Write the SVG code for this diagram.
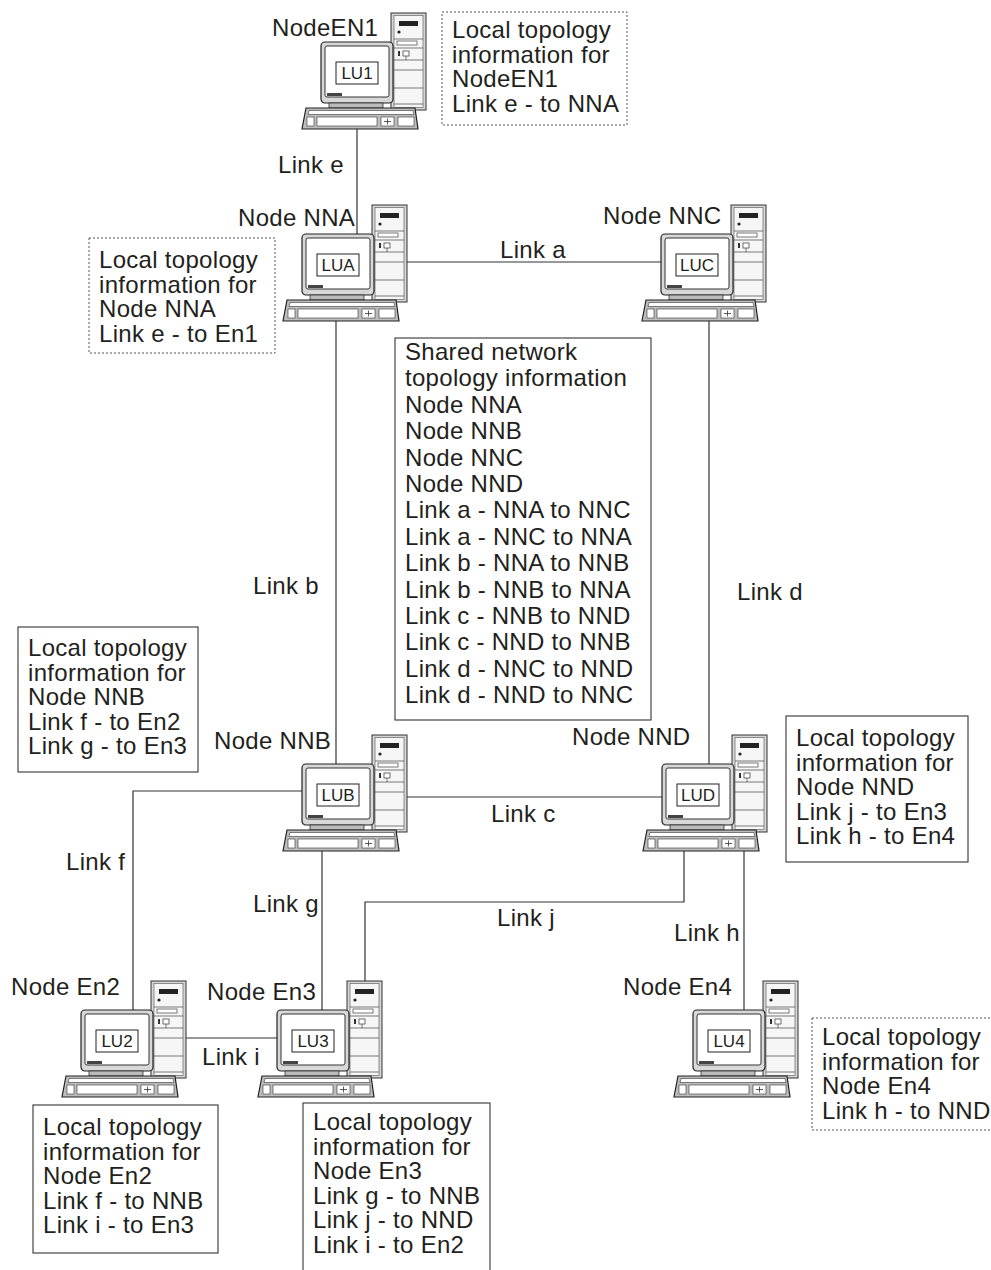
<svg xmlns="http://www.w3.org/2000/svg" xmlns:xlink="http://www.w3.org/1999/xlink" width="991" height="1270" viewBox="0 0 991 1270">
<style>
text{font-family:"Liberation Sans",Arial,sans-serif;fill:#231f20;}
.lbl{font-size:24px;letter-spacing:0.3px;}
.lu{font-size:17px;text-anchor:middle;}
.box{fill:#fff;stroke:#333;stroke-width:1.1;}
.dash{fill:#fff;stroke:#555;stroke-width:1;stroke-dasharray:2 2;}
.ln{stroke:#444;stroke-width:0.7;fill:none;}
</style>
<defs>
<g id="pc">
<rect x="70" y="0" width="35" height="97" fill="#d6d6d6" stroke="#333" stroke-width="1"/>
<rect x="73" y="2.5" width="29" height="92" fill="#f6f6f6" stroke="#666" stroke-width="0.7"/>
<rect x="78" y="8" width="19" height="5" fill="#222"/>
<circle cx="78" cy="19" r="1.6" fill="#222"/>
<line class="ln" x1="73" y1="26" x2="102" y2="26"/>
<rect x="76" y="28" width="20" height="4" fill="#fff" stroke="#444" stroke-width="0.7"/>
<line class="ln" x1="73" y1="35" x2="102" y2="35"/>
<rect x="77" y="38" width="2" height="5" fill="#333"/>
<rect x="82" y="38" width="6" height="5" fill="#fff" stroke="#333" stroke-width="0.7"/>
<line class="ln" x1="85" y1="43" x2="85" y2="47"/>
<line class="ln" x1="73" y1="47" x2="102" y2="47"/>
<line class="ln" x1="73" y1="57" x2="102" y2="57"/>
<line class="ln" x1="73" y1="75" x2="102" y2="75"/>
<line class="ln" x1="73" y1="91" x2="102" y2="91"/>
<rect x="0" y="29" width="72" height="61" rx="4" fill="#d8d8d8" stroke="#222" stroke-width="1.2"/>
<rect x="4" y="33" width="64" height="51" rx="2" fill="#fff" stroke="#333" stroke-width="1"/>
<rect x="6" y="80" width="15" height="3" fill="#444"/>
<rect x="8" y="90" width="54" height="5" fill="#bbb" stroke="#333" stroke-width="0.8"/>
<polygon points="-15,95 94,95 97,116 -19,116" fill="#bdbdbd" stroke="#222" stroke-width="1.2"/>
<polygon points="-12,97.5 92,97.5 93,101.5 -13,101.5" fill="#fff" stroke="#333" stroke-width="0.6"/>
<rect x="-4" y="104" width="60" height="9" fill="#fff" stroke="#333" stroke-width="0.6"/>
<rect x="-14" y="104" width="7" height="9" fill="#fff" stroke="#333" stroke-width="0.6"/>
<rect x="60" y="104" width="13" height="9" fill="#fff" stroke="#333" stroke-width="0.6"/>
<path d="M63 108.5h7M66.5 105.5v6" stroke="#333" stroke-width="0.8" fill="none"/>
<rect x="77" y="104" width="16" height="9" fill="#fff" stroke="#333" stroke-width="0.6"/>
</g>
</defs>
<rect width="991" height="1270" fill="#fff"/>

<g id="connectors" fill="none" stroke="#333" stroke-width="1.2">
<line x1="357" y1="129" x2="357" y2="234"/>
<line x1="407" y1="262" x2="661" y2="262"/>
<line x1="336" y1="321" x2="336" y2="764"/>
<line x1="709" y1="321" x2="709" y2="764"/>
<line x1="407" y1="797" x2="662" y2="797"/>
<polyline points="302,791 133,791 133,1010"/>
<line x1="322" y1="851" x2="322" y2="1010"/>
<polyline points="684,851 684,902 365,902 365,981"/>
<line x1="744" y1="851" x2="744" y2="1010"/>
<line x1="186" y1="1038" x2="277" y2="1038"/>
</g>

<g id="link-labels" class="lbl">
<text class="lbl" x="278" y="173">Link e</text>
<text class="lbl" x="500" y="258">Link a</text>
<text class="lbl" x="253" y="594">Link b</text>
<text class="lbl" x="737" y="600">Link d</text>
<text class="lbl" x="491" y="822">Link c</text>
<text class="lbl" x="66" y="870">Link f</text>
<text class="lbl" x="253" y="912">Link g</text>
<text class="lbl" x="497" y="926">Link j</text>
<text class="lbl" x="674" y="941">Link h</text>
<text class="lbl" x="202" y="1065">Link i</text>
</g>

<g id="node-EN1">
<use xlink:href="#pc" transform="translate(321,13)"/>
<rect x="336" y="62" width="42" height="22" fill="#fff" stroke="#222"/>
<text class="lu" x="357" y="79">LU1</text>
<text class="lbl" x="272" y="36">NodeEN1</text>
</g>
<g id="node-NNA">
<use xlink:href="#pc" transform="translate(302,205)"/>
<rect x="317" y="254" width="42" height="22" fill="#fff" stroke="#222"/>
<text class="lu" x="338" y="271">LUA</text>
<text class="lbl" x="238" y="226">Node NNA</text>
</g>
<g id="node-NNC">
<use xlink:href="#pc" transform="translate(661,205)"/>
<rect x="676" y="254" width="42" height="22" fill="#fff" stroke="#222"/>
<text class="lu" x="697" y="271">LUC</text>
<text class="lbl" x="603" y="224">Node NNC</text>
</g>
<g id="node-NNB">
<use xlink:href="#pc" transform="translate(302,735)"/>
<rect x="317" y="784" width="42" height="22" fill="#fff" stroke="#222"/>
<text class="lu" x="338" y="801">LUB</text>
<text class="lbl" x="214" y="749">Node NNB</text>
</g>
<g id="node-NND">
<use xlink:href="#pc" transform="translate(662,735)"/>
<rect x="677" y="784" width="42" height="22" fill="#fff" stroke="#222"/>
<text class="lu" x="698" y="801">LUD</text>
<text class="lbl" x="572" y="745">Node NND</text>
</g>
<g id="node-En2">
<use xlink:href="#pc" transform="translate(81,981)"/>
<rect x="96" y="1030" width="42" height="22" fill="#fff" stroke="#222"/>
<text class="lu" x="117" y="1047">LU2</text>
<text class="lbl" x="11" y="995">Node En2</text>
</g>
<g id="node-En3">
<use xlink:href="#pc" transform="translate(277,981)"/>
<rect x="292" y="1030" width="42" height="22" fill="#fff" stroke="#222"/>
<text class="lu" x="313" y="1047">LU3</text>
<text class="lbl" x="207" y="1000">Node En3</text>
</g>
<g id="node-En4">
<use xlink:href="#pc" transform="translate(693,981)"/>
<rect x="708" y="1030" width="42" height="22" fill="#fff" stroke="#222"/>
<text class="lu" x="729" y="1047">LU4</text>
<text class="lbl" x="623" y="995">Node En4</text>
</g>

<g id="info-EN1">
<rect class="dash" x="442" y="12" width="185" height="113"/>
<text class="lbl" x="452" y="38"><tspan x="452">Local topology</tspan><tspan x="452" dy="24.5">information for</tspan><tspan x="452" dy="24.5">NodeEN1</tspan><tspan x="452" dy="24.5">Link e - to NNA</tspan></text>
</g>
<g id="info-NNA">
<rect class="dash" x="89" y="238" width="186" height="115"/>
<text class="lbl" x="99" y="268"><tspan x="99">Local topology</tspan><tspan x="99" dy="24.5">information for</tspan><tspan x="99" dy="24.5">Node NNA</tspan><tspan x="99" dy="24.5">Link e - to En1</tspan></text>
</g>
<g id="info-shared">
<rect class="box" x="395" y="338" width="256" height="382"/>
<text class="lbl" x="405" y="360"><tspan x="405">Shared network</tspan><tspan x="405" dy="26.4">topology information</tspan><tspan x="405" dy="26.4">Node NNA</tspan><tspan x="405" dy="26.4">Node NNB</tspan><tspan x="405" dy="26.4">Node NNC</tspan><tspan x="405" dy="26.4">Node NND</tspan><tspan x="405" dy="26.4">Link a - NNA to NNC</tspan><tspan x="405" dy="26.4">Link a - NNC to NNA</tspan><tspan x="405" dy="26.4">Link b - NNA to NNB</tspan><tspan x="405" dy="26.4">Link b - NNB to NNA</tspan><tspan x="405" dy="26.4">Link c - NNB to NND</tspan><tspan x="405" dy="26.4">Link c - NND to NNB</tspan><tspan x="405" dy="26.4">Link d - NNC to NND</tspan><tspan x="405" dy="26.4">Link d - NND to NNC</tspan></text>
</g>
<g id="info-NNB">
<rect class="box" x="18" y="627" width="180" height="145"/>
<text class="lbl" x="28" y="656"><tspan x="28">Local topology</tspan><tspan x="28" dy="24.5">information for</tspan><tspan x="28" dy="24.5">Node NNB</tspan><tspan x="28" dy="24.5">Link f - to En2</tspan><tspan x="28" dy="24.5">Link g - to En3</tspan></text>
</g>
<g id="info-NND">
<rect class="box" x="786" y="716" width="182" height="146"/>
<text class="lbl" x="796" y="746"><tspan x="796">Local topology</tspan><tspan x="796" dy="24.5">information for</tspan><tspan x="796" dy="24.5">Node NND</tspan><tspan x="796" dy="24.5">Link j - to En3</tspan><tspan x="796" dy="24.5">Link h - to En4</tspan></text>
</g>
<g id="info-En2">
<rect class="box" x="33" y="1105" width="185" height="148"/>
<text class="lbl" x="43" y="1135"><tspan x="43">Local topology</tspan><tspan x="43" dy="24.5">information for</tspan><tspan x="43" dy="24.5">Node En2</tspan><tspan x="43" dy="24.5">Link f - to NNB</tspan><tspan x="43" dy="24.5">Link i - to En3</tspan></text>
</g>
<g id="info-En3">
<rect class="box" x="303" y="1103" width="187" height="175"/>
<text class="lbl" x="313" y="1130"><tspan x="313">Local topology</tspan><tspan x="313" dy="24.5">information for</tspan><tspan x="313" dy="24.5">Node En3</tspan><tspan x="313" dy="24.5">Link g - to NNB</tspan><tspan x="313" dy="24.5">Link j - to NND</tspan><tspan x="313" dy="24.5">Link i - to En2</tspan></text>
</g>
<g id="info-En4">
<rect class="dash" x="812" y="1018" width="185" height="112"/>
<text class="lbl" x="822" y="1045"><tspan x="822">Local topology</tspan><tspan x="822" dy="24.5">information for</tspan><tspan x="822" dy="24.5">Node En4</tspan><tspan x="822" dy="24.5">Link h - to NND</tspan></text>
</g>
</svg>
